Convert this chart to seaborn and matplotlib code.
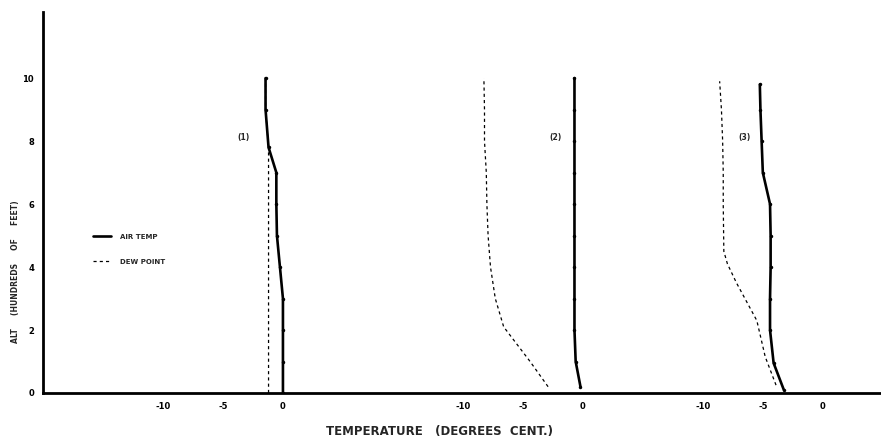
import matplotlib
matplotlib.use("Agg")
import matplotlib.pyplot as plt
from matplotlib.lines import Line2D
import seaborn as sns
import pandas as pd
import numpy as np

# ---- data (altitude in hundreds of feet, temperature in deg C) ----
panels = ["(1)", "(2)", "(3)"]
panel_offsets = [0, 25, 45]          # horizontal shift of each sounding on the shared axis

alt_1 = [0, 1, 2, 3, 4, 5, 6, 7, 7.8, 9, 10]
air_1 = [0.0, 0.0, 0.0, 0.0, -0.25, -0.5, -0.55, -0.55, -1.2, -1.45, -1.45]
dew_alt_1 = [0, 1, 2, 3, 4, 5, 6, 7, 7.8, 9, 10]
dew_1 = [-1.2, -1.2, -1.2, -1.2, -1.2, -1.2, -1.2, -1.2, -1.2, -1.45, -1.45]

alt_2 = [0.2, 1, 2, 3, 4, 5, 6, 7, 8, 9, 10]
air_2 = [-0.2, -0.6, -0.7, -0.7, -0.7, -0.7, -0.7, -0.7, -0.7, -0.7, -0.7]
dew_alt_2 = [0.2, 1, 2.1, 3, 4, 5, 6, 7, 8, 9, 10]
dew_2 = [-2.9, -4.4, -6.6, -7.3, -7.7, -7.9, -8.0, -8.05, -8.2, -8.2, -8.25]

alt_3 = [0.1, 0.95, 2, 3, 4, 5, 6, 7, 8, 9, 9.8]
air_3 = [-3.25, -4.1, -4.4, -4.4, -4.35, -4.35, -4.4, -5.0, -5.1, -5.2, -5.25]
dew_alt_3 = [0.25, 1.15, 2.3, 3.5, 4.1, 4.5, 6, 7, 8, 9, 9.9]
dew_3 = [-3.9, -4.8, -5.5, -7.2, -7.95, -8.25, -8.3, -8.3, -8.35, -8.45, -8.6]

label_pos = [(-3.3, 8.1), (-2.25, 8.1), (-6.5, 8.1)]

x_major = [-10, -5, 0]
x_major_labels = ["-10", "-5", "0"]
y_major = [0, 2, 4, 6, 8, 10]

# ---- build long table ----
rows = []
series = [(alt_1, air_1, dew_alt_1, dew_1),
          (alt_2, air_2, dew_alt_2, dew_2),
          (alt_3, air_3, dew_alt_3, dew_3)]
for p, off, (a, t, da, d) in zip(panels, panel_offsets, series):
    for h, v in zip(a, t):
        rows.append(dict(panel=p, kind="AIR TEMP", alt=h, x=v + off))
    for h, v in zip(da, d):
        rows.append(dict(panel=p, kind="DEW POINT", alt=h, x=v + off))
df = pd.DataFrame(rows)

sns.set_theme(style="white")
plt.rcParams["font.family"] = ["DejaVu Sans"]

fig = plt.figure(figsize=(8.81, 4.43), dpi=100)
fig.patch.set_facecolor("white")
ax = fig.add_axes([43 / 881, 50 / 443, 838 / 881, 381 / 443])
ax.set_facecolor("white")

for p in panels:
    sub = df[(df.panel == p) & (df.kind == "AIR TEMP")]
    sns.lineplot(data=sub, x="x", y="alt", sort=False, estimator=None, orient="y",
                 color="black", lw=1.9, marker="o", markersize=2.5,
                 markeredgewidth=0, ax=ax, legend=False)
    sub = df[(df.panel == p) & (df.kind == "DEW POINT")]
    sns.lineplot(data=sub, x="x", y="alt", sort=False, estimator=None, orient="y",
                 color="black", lw=0.9, linestyle=(0, (2.5, 2.5)), ax=ax, legend=False)

for p, off, (tx, ty) in zip(panels, panel_offsets, label_pos):
    ax.text(tx + off, ty, p, fontsize=5.5, fontweight="bold", ha="center", va="center")

ax.set_xlim(-20, 49.85)
ax.set_ylim(0, 12.1)

xt, xl, xm = [], [], []
for off in panel_offsets:
    xt += [v + off for v in x_major]
    xl += x_major_labels
    xm += [v + off for v in range(-10, 1)]
ax.set_xticks(xt)
ax.set_xticklabels(xl)
ax.set_xticks(xm, minor=True)
ax.set_yticks(y_major)
ax.set_yticklabels([str(v) for v in y_major])
ax.set_yticks(list(range(0, 11)), minor=True)

ax.tick_params(axis="both", which="both", direction="out", length=2.5, width=1.2,
               colors="black", labelsize=6, pad=4)
for lab in ax.get_xticklabels() + ax.get_yticklabels():
    lab.set_fontweight("bold")

sns.despine(ax=ax, top=True, right=True)
for s in ["left", "bottom"]:
    ax.spines[s].set_color("black")
    ax.spines[s].set_linewidth(2)

ax.set_xlabel("TEMPERATURE   (DEGREES  CENT.)", fontsize=8.5, fontweight="bold")
ax.xaxis.set_label_coords((440 - 43) / 838, -(432 - 393) / 381)
ax.xaxis.label.set_va("center")
ax.set_ylabel("ALT     (HUNDREDS     OF     FEET)", fontsize=5.5, fontweight="bold")
ax.yaxis.set_label_coords(-(43 - 16) / 838, (393 - 272) / 381)
ax.yaxis.label.set_va("center")
ax.grid(False)

handles = [Line2D([], [], color="black", lw=1.9),
           Line2D([], [], color="black", lw=0.9, linestyle=(0, (2.5, 2.5)))]
ax.legend(handles, ["AIR TEMP", "DEW POINT"], loc="center left",
          bbox_to_anchor=(0.052, 0.377), frameon=False, handlelength=2.6,
          handletextpad=1.3, labelspacing=2.75,
          prop=dict(size=5, weight="bold"))

fig.savefig("out.png", dpi=100, facecolor="white")
